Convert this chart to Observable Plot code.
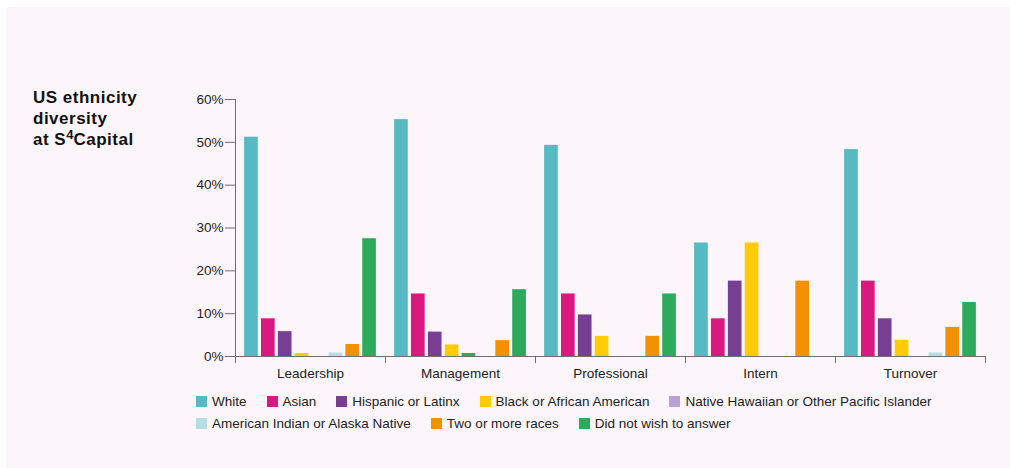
<!DOCTYPE html>
<html>
<head>
<meta charset="utf-8">
<script src="https://cdn.jsdelivr.net/npm/d3@7"></script>
<script src="https://cdn.jsdelivr.net/npm/@observablehq/plot@0.6"></script>
<style>
html, body { margin: 0; padding: 0; background: #ffffff; width: 1010px; height: 468px; overflow: hidden;
  font-family: "Liberation Sans", Arial, Helvetica, sans-serif; }
#panel { position: absolute; left: 6px; top: 7px; right: 0; bottom: 0; background: #fcf6fa; }
#title { position: absolute; left: 33px; top: 87px; font-size: 17px; font-weight: bold; line-height: 21px;
  color: #111; letter-spacing: 0.5px; }
#title sup { font-size: 13px; line-height: 0; vertical-align: 6px; letter-spacing: 0; }
#chart { position: absolute; left: 0; top: 0; }
#legend { position: absolute; left: 196px; top: 391px; width: 790px; display: flex; flex-wrap: wrap;
  font-size: 13.5px; color: #222; }
.item { display: inline-flex; align-items: center; height: 21.5px; margin-right: 20px; white-space: nowrap; }
.sw { width: 11px; height: 11px; margin-right: 5px; display: inline-block; }
</style>
</head>
<body>
<div id="panel"></div>
<div id="title">US ethnicity<br>diversity<br>at S<sup>4</sup>Capital</div>
<div id="chart"></div>
<div id="legend"></div>
<script>
// Categories
const groups = ["Leadership", "Management", "Professional", "Intern", "Turnover"];
const series = [
  "White",
  "Asian",
  "Hispanic or Latinx",
  "Black or African American",
  "Native Hawaiian or Other Pacific Islander",
  "American Indian or Alaska Native",
  "Two or more races",
  "Did not wish to answer"
];
const colors = ["#57b9c2", "#d9197f", "#763f92", "#ffcb05", "#b9a2d3", "#b5dde3", "#f39200", "#2eaa5c"];

// Values (%), one array per group, in series order
const leadership   = [51.2, 8.8, 5.8, 0.7, 0, 0.8, 2.8, 27.5];
const management   = [55.3, 14.6, 5.7, 2.7, 0.7, 0, 3.7, 15.6];
const professional = [49.3, 14.6, 9.7, 4.7, 0, 0, 4.7, 14.6];
const intern       = [26.5, 8.8, 17.6, 26.5, 0, 0, 17.6, 0];
const turnover     = [48.3, 17.6, 8.8, 3.8, 0, 0.8, 6.8, 12.6];
const groupValues = [leadership, management, professional, intern, turnover];

// In the source, this one bar is drawn in another series' colour
const recolored = [{group: "Management", series: "Native Hawaiian or Other Pacific Islander", shownAs: "Did not wish to answer"}];

const yTicks = [0, 10, 20, 30, 40, 50, 60];

const rows = groups.flatMap((g, gi) => groupValues[gi].map((v, si) => {
  const r = recolored.find(d => d.group === g && d.series === series[si]);
  return {group: g, series: series[si], value: v, colorKey: r ? r.shownAs : series[si]};
}));

const W = 1010, H = 390, mTop = 99, mBottom = 28, mLeft = 235, mRight = 25;
const tickLen = 6;
const frameH = H - mTop - mBottom;
const axisGray = "#707070";

const chart = Plot.plot({
  width: W, height: H,
  marginTop: mTop, marginRight: mRight, marginBottom: mBottom, marginLeft: mLeft,
  style: {background: "transparent", fontFamily: "'Liberation Sans', Arial, Helvetica, sans-serif", fontSize: "13.5px", color: "#222", overflow: "visible"},
  fx: {domain: groups, padding: 0, round: false, axis: null},
  x: {domain: series, paddingInner: 0.19, paddingOuter: 0.54, round: false, axis: null},
  y: {domain: [0, 60], insetBottom: tickLen, axis: null},
  color: {type: "ordinal", domain: series, range: colors},
  marks: [
    Plot.axisY(yTicks, {tickFormat: d => d + "%", tickSize: 10, tickPadding: 2, stroke: axisGray, fill: "#222", label: null}),
    Plot.frame({anchor: "left", facetAnchor: "left", stroke: axisGray}),
    Plot.axisFx({anchor: "bottom", tickSize: 0, tickPadding: 6, fill: "#222", label: null}),
    Plot.barY(rows, {fx: "group", x: "series", y: "value", fill: "colorKey"}),
    Plot.ruleY([0], {stroke: axisGray}),
    Plot.frame({anchor: "left", insetTop: frameH - tickLen, stroke: axisGray}),
    Plot.frame({anchor: "right", insetTop: frameH - tickLen, stroke: axisGray})
  ]
});
document.getElementById("chart").appendChild(chart);

// Legend
const legend = document.getElementById("legend");
series.forEach((s, i) => {
  const item = document.createElement("span");
  item.className = "item";
  const sw = document.createElement("span");
  sw.className = "sw";
  sw.style.background = colors[i];
  item.appendChild(sw);
  item.appendChild(document.createTextNode(s));
  legend.appendChild(item);
});
</script>
</body>
</html>
